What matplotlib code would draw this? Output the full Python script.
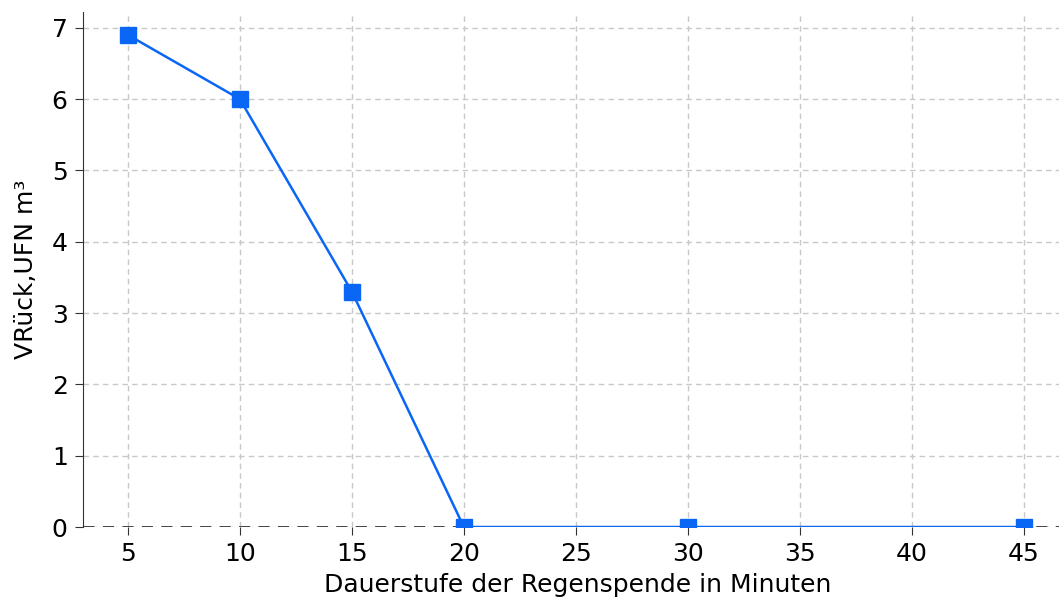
import matplotlib
matplotlib.use("Agg")
import matplotlib.pyplot as plt

dauer = [5, 10, 15, 20, 30, 45]
v_rueck = [6.9, 6.0, 3.3, 0.0, 0.0, 0.0]
x_ticks = [5, 10, 15, 20, 25, 30, 35, 40, 45]
y_ticks = [0, 1, 2, 3, 4, 5, 6, 7]

fig = plt.figure(figsize=(10.59, 6.03), dpi=100)
ax = fig.add_axes([0.0784, 0.126, 0.934, 0.854])

ax.grid(True, linestyle=(0, (4, 3)), color="#c8c8c8", linewidth=1.0)
# dunkle gestrichelte Nulllinie statt unterer Achse
ax.axhline(0, color="#333333", linestyle=(0, (4, 3)), linewidth=2.0, zorder=2.5)
ax.plot(dauer, v_rueck, color="#0a66f5", linewidth=1.8, marker="s", markersize=12,
        markerfacecolor="#0a66f5", markeredgecolor="#0a66f5", zorder=3)

ax.set_xlim(3, 47.15)
ax.set_ylim(0, 7.22)
ax.set_xticks(x_ticks)
ax.set_yticks(y_ticks)
ax.tick_params(labelsize=18, length=6, color="#333333", pad=5)
ax.spines["top"].set_visible(False)
ax.spines["right"].set_visible(False)
ax.spines["bottom"].set_visible(False)
ax.spines["left"].set_color("#333333")
ax.set_xlabel("Dauerstufe der Regenspende in Minuten", fontsize=18, labelpad=5)
ax.set_ylabel("VRück,UFN m³", fontsize=18, labelpad=10)

fig.savefig("out.png", dpi=100)
